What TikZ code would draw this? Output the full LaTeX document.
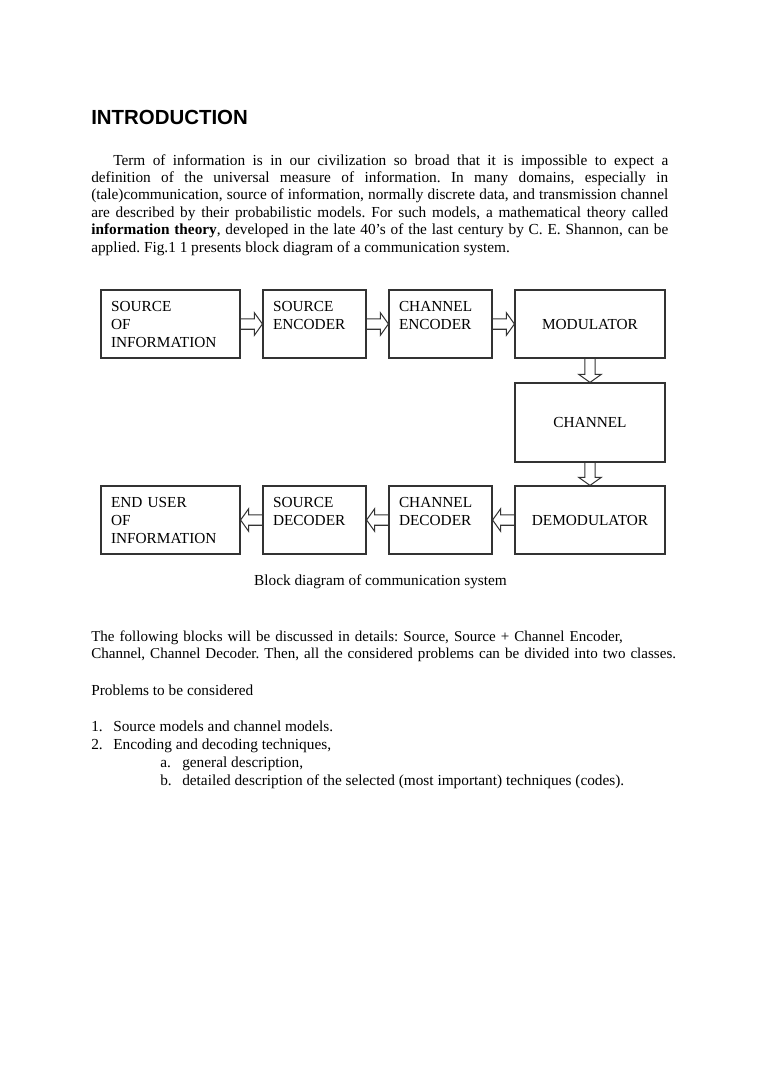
\documentclass[tikz,border=0pt]{standalone}
\usepackage{fontspec}
\setmainfont{Liberation Serif}
\newfontfamily\headfont{Liberation Sans}
\usetikzlibrary{calc}
\frenchspacing

% one pixel of the page
\newlength{\pxu}
\setlength{\pxu}{0.7833pt}

\tikzset{
  block/.style={draw=black!80, line width=0.9pt, minimum height=68\pxu,
    inner xsep=10\pxu, inner ysep=0pt, align=left,
    font=\fontsize{12}{14.1}\selectfont},
  arrowline/.style={draw=black!80, line width=0.8pt, line join=miter},
  body/.style={anchor=base west, inner sep=0pt,
    font=\fontsize{12}{13.7}\selectfont},
}

% hollow block arrow from #1 to #2
\newcommand{\blockarrow}[2]{%
  \coordinate (hb) at ($(#2)!6.3pt!(#1)$);
  \draw[arrowline] ($(#1)!4.1pt!90:(#2)$) -- ($(hb)!4.1pt!-90:(#1)$)
    -- ($(hb)!8.8pt!-90:(#1)$) -- (#2) -- ($(hb)!8.8pt!90:(#1)$)
    -- ($(hb)!4.1pt!90:(#1)$) -- ($(#1)!4.1pt!-90:(#2)$);}

\begin{document}
\begin{tikzpicture}[x=\pxu, y=-\pxu]
        \path[fill=white] (0,0) rectangle (760,1075);

        % Heading
        \node[anchor=base west, inner sep=0pt, font=\headfont\bfseries\fontsize{16}{19}\selectfont]
            (title) at (91,124) {INTRODUCTION};

        % Introduction text
        \node[body, text width=577\pxu, align=justify] (intro) at (91,165)
            {\hspace*{22\pxu}Term of information is in our civilization so broad that it is impossible to expect a\linebreak
            definition of the universal measure of information. In many domains, especially in\linebreak
            (tale)communication, source of information, normally discrete data, and transmission channel\linebreak
            are described by their probabilistic models. For such models, a mathematical theory called\linebreak
            \textbf{information theory}, developed in the late 40’s of the last century by C. E. Shannon, can be\linebreak
            applied. Fig.1 1 presents block diagram of a communication system.\par};

        % Upper row
        \node[block, text width=119\pxu] (src) at (170.5,324) {SOURCE\\OF\\INFORMATION};
        \node[block, text width=83\pxu] (senc) at (314.5,324) {SOURCE\\ENCODER\\\mbox{}};
        \node[block, text width=83\pxu] (cenc) at (440.5,324) {CHANNEL\\ENCODER\\\mbox{}};
        \node[block, text width=130\pxu, align=center] (mod) at (590,324) {MODULATOR};

        % Channel
        \node[block, text width=130\pxu, minimum height=79\pxu, align=center] (chan) at (590,422.5) {CHANNEL};

        % Lower row
        \node[block, text width=130\pxu, align=center] (demod) at (590,520) {DEMODULATOR};
        \node[block, text width=83\pxu] (cdec) at (440.5,520) {CHANNEL\\DECODER\\\mbox{}};
        \node[block, text width=83\pxu] (sdec) at (314.5,520) {SOURCE\\DECODER\\\mbox{}};
        \node[block, text width=119\pxu] (user) at (170.5,520) {END USER\\OF\\INFORMATION};

        % Arrows
        \blockarrow{src.east}{senc.west}
        \blockarrow{senc.east}{cenc.west}
        \blockarrow{cenc.east}{mod.west}
        \blockarrow{mod.south}{chan.north}
        \blockarrow{chan.south}{demod.north}
        \blockarrow{demod.west}{cdec.east}
        \blockarrow{cdec.west}{sdec.east}
        \blockarrow{sdec.west}{user.east}

        % Caption
        \node[body, anchor=base] (caption) at (380.5,585) {Block diagram of communication system};

        % Following text
        \node[body, text width=600\pxu, align=left, font=\fontsize{11.8}{13.7}\selectfont] (blocks) at (91,641)
            {The following blocks will be discussed in details: Source, Source + Channel Encoder,\\
            Channel, Channel Decoder. Then, all the considered problems can be divided into two classes.};
        \node[body] (problems) at (91,695) {Problems to be considered};

        % List
        \node[body] (n1) at (91,731) {1.};
        \node[body] (i1) at (113,731) {Source models and channel models.};
        \node[body] (n2) at (91,749) {2.};
        \node[body] (i2) at (113,749) {Encoding and decoding techniques,};
        \node[body] (na) at (160,767) {a.};
        \node[body] (ia) at (182,767) {general description,};
        \node[body] (nb) at (160,785) {b.};
        \node[body] (ib) at (182,785) {detailed description of the selected (most important) techniques (codes).};

    \end{tikzpicture}
\end{document}
